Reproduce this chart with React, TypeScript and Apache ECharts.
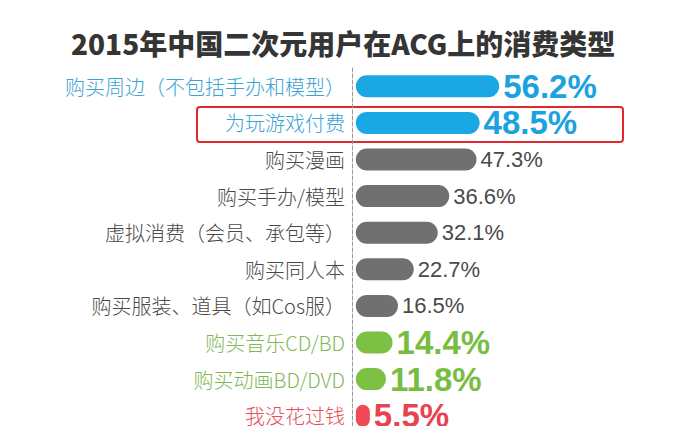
import React, { useEffect, useRef } from "react";
import * as echarts from "echarts";

const titleText = "2015年中国二次元用户在ACG上的消费类型";
const categories = [
  "购买周边（不包括手办和模型）",
  "为玩游戏付费",
  "购买漫画",
  "购买手办/模型",
  "虚拟消费（会员、承包等）",
  "购买同人本",
  "购买服装、道具（如Cos服）",
  "购买音乐CD/BD",
  "购买动画BD/DVD",
  "我没花过钱",
];
const values = [56.2, 48.5, 47.3, 36.6, 32.1, 22.7, 16.5, 14.4, 11.8, 5.5];
const groups = ["blue", "blue", "gray", "gray", "gray", "gray", "gray", "green", "green", "red"];

const palette: Record<string, { bar: string; label: string; value: string; big: boolean }> = {
  blue: { bar: "#1ba6e4", label: "#3aa3d2", value: "#1ba3df", big: true },
  gray: { bar: "#707070", label: "#4a4a4a", value: "#4a4a4a", big: false },
  green: { bar: "#7cc143", label: "#82b656", value: "#78bd42", big: true },
  red: { bar: "#f04a55", label: "#e2505a", value: "#e8434f", big: true },
};

export default function App() {
  const ref = useRef<HTMLDivElement>(null);
  useEffect(() => {
    if (!ref.current) return;
    const chart = echarts.init(ref.current, null, { renderer: "svg" });
    const seriesData = values.map((v, i) => {
      const p = palette[groups[i]];
      return {
        value: v,
        itemStyle: { color: p.bar },
        label: p.big
          ? { color: p.value, fontSize: 33, fontWeight: "bold" as const, fontFamily: "Liberation Sans, Arial, sans-serif" }
          : { color: p.value, fontSize: 22, fontWeight: "normal" as const, fontFamily: "Liberation Sans, Arial, sans-serif" },
      };
    });
    chart.setOption({
      animation: false,
      backgroundColor: "#ffffff",
      title: {
        text: titleText,
        left: 66,
        top: 24,
        textStyle: {
          fontFamily: "Noto Sans CJK SC, sans-serif",
          fontSize: 28,
          fontWeight: 900,
          color: "#353535",
        },
      },
      grid: { left: 352, right: 89, top: 68, height: 368, containLabel: false },
      xAxis: {
        type: "value",
        min: -1.5,
        max: 100,
        show: false,
      },
      yAxis: {
        type: "category",
        inverse: true,
        data: categories.map((c, i) => ({ value: c, textStyle: { color: palette[groups[i]].label } })),
        axisLine: { show: true, onZero: false, lineStyle: { color: "#9a9a9a", type: "dashed", width: 1 } },
        axisTick: { show: false },
        axisLabel: {
          margin: 7,
          fontSize: 20,
          fontFamily: "Noto Sans CJK SC, sans-serif",
          fontWeight: 300,
        },
      },
      series: [
        {
          type: "bar",
          data: seriesData,
          barWidth: 22,
          itemStyle: { borderRadius: 11 },
          label: { show: true, position: "right", distance: 4, formatter: "{c}%" },
        },
      ],
      graphic: [
        {
          type: "rect",
          shape: { x: 197, y: 107, width: 426, height: 35, r: 3 },
          style: { fill: "none", stroke: "#e2282f", lineWidth: 2 },
        },
      ],
    });
    return () => chart.dispose();
  }, []);
  return <div ref={ref} style={{ width: 700, height: 434, margin: -8 }} />;
}
